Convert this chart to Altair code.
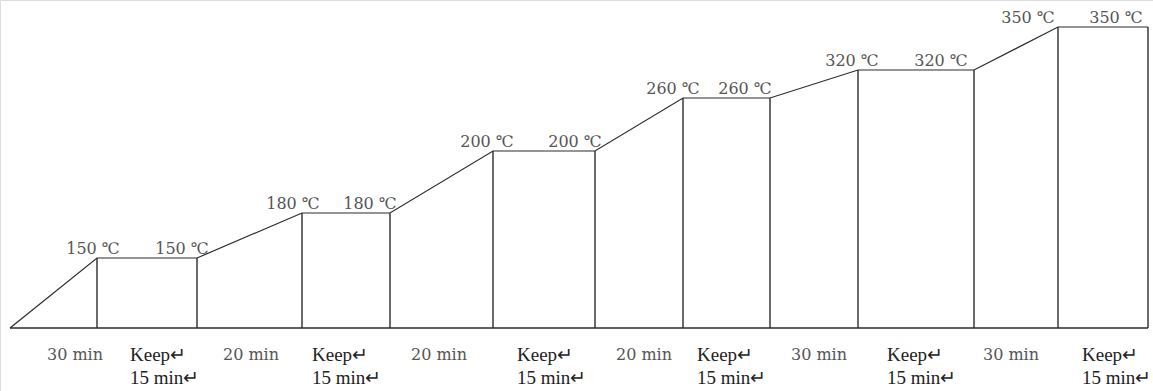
import altair as alt
import pandas as pd

# Schematic temperature program
temps = [150, 180, 200, 260, 320, 350]
# drawn height of each plateau (schematic units, baseline = 0)
levels = [70, 115, 177, 230, 258, 301]
# drawn width of each segment (ramp, hold, ramp, hold, ...), schematic units
seg_widths = [87, 100, 105, 88, 103, 102, 88, 87, 88, 116, 84, 90]
ramp_labels = ["30 min", "20 min", "20 min", "20 min", "30 min", "30 min"]
hold_labels = ["Keep↵\n15 min↵"] * 6
# label anchors along the time axis (schematic units)
ramp_label_x = [65, 241, 429, 634, 809, 1001]
hold_label_x = [120, 302, 507, 687, 877, 1072]
temp_left_x = [83, 283, 477, 663, 842, 1018]
temp_right_x = [172, 360, 565, 735, 931, 1106]

# cumulative boundaries
bounds = [0]
for w in seg_widths:
    bounds.append(bounds[-1] + w)

# outline path
px, py = [bounds[0]], [0]
for i, lv in enumerate(levels):
    px += [bounds[2 * i + 1], bounds[2 * i + 2]]
    py += [lv, lv]
outline = pd.DataFrame({"x": px, "y": py, "o": list(range(len(px)))})

# vertical lines at each boundary
vx, vy = [], []
for i, lv in enumerate(levels):
    vx += [bounds[2 * i + 1], bounds[2 * i + 2]]
    vy += [lv, lv]
verts = pd.DataFrame({"x": vx, "y0": [0] * len(vx), "y": vy})

base = pd.DataFrame({"x": [bounds[0]], "x2": [bounds[-1]], "y": [0]})

tl = pd.DataFrame({
    "x": temp_left_x + temp_right_x,
    "y": levels + levels,
    "t": [f"{t} ℃" for t in temps] * 2,
})
rl = pd.DataFrame({"x": ramp_label_x, "y": [-27] * 6, "t": ramp_labels})
hl = pd.DataFrame({"x": hold_label_x, "y": [-27] * 6, "t": hold_labels})

xs = alt.Scale(domain=[-10, 1143], range=[0, 1153])
ys = alt.Scale(domain=[-63, 328])
X = lambda f: alt.X(f, type="quantitative", scale=xs, axis=None)
Y = lambda f: alt.Y(f, type="quantitative", scale=ys, axis=None)

stroke = "#2b2b2b"
line = alt.Chart(outline).mark_line(color=stroke, strokeWidth=1.2).encode(
    x=X("x"), y=Y("y"), order="o:Q")
vrules = alt.Chart(verts).mark_rule(color=stroke, strokeWidth=1.4).encode(
    x=X("x"), y=Y("y0"), y2="y")
brule = alt.Chart(base).mark_rule(color=stroke, strokeWidth=1.4).encode(
    x=X("x"), x2="x2", y=Y("y"))
ttext = alt.Chart(tl).mark_text(font="DejaVu Serif", fontSize=16, color="#555555",
                                baseline="bottom", dy=-1).encode(
    x=X("x"), y=Y("y"), text="t")
rtext = alt.Chart(rl).mark_text(font="DejaVu Serif", fontSize=16, color="#555555",
                                baseline="middle").encode(
    x=X("x"), y=Y("y"), text="t")
htext = alt.Chart(hl).mark_text(font="Liberation Serif", fontSize=19, color="#222222",
                                align="left", baseline="middle", lineBreak="\n",
                                lineHeight=23).encode(
    x=X("x"), y=Y("y"), text="t")

chart = alt.layer(brule, vrules, line, ttext, rtext, htext).properties(
    width=1153, height=391, padding=0, autosize=alt.AutoSizeParams(type="none")
).configure_view(stroke=None).configure(background="white")

chart.save("out.html", embed_options={"renderer": "svg", "actions": False})
